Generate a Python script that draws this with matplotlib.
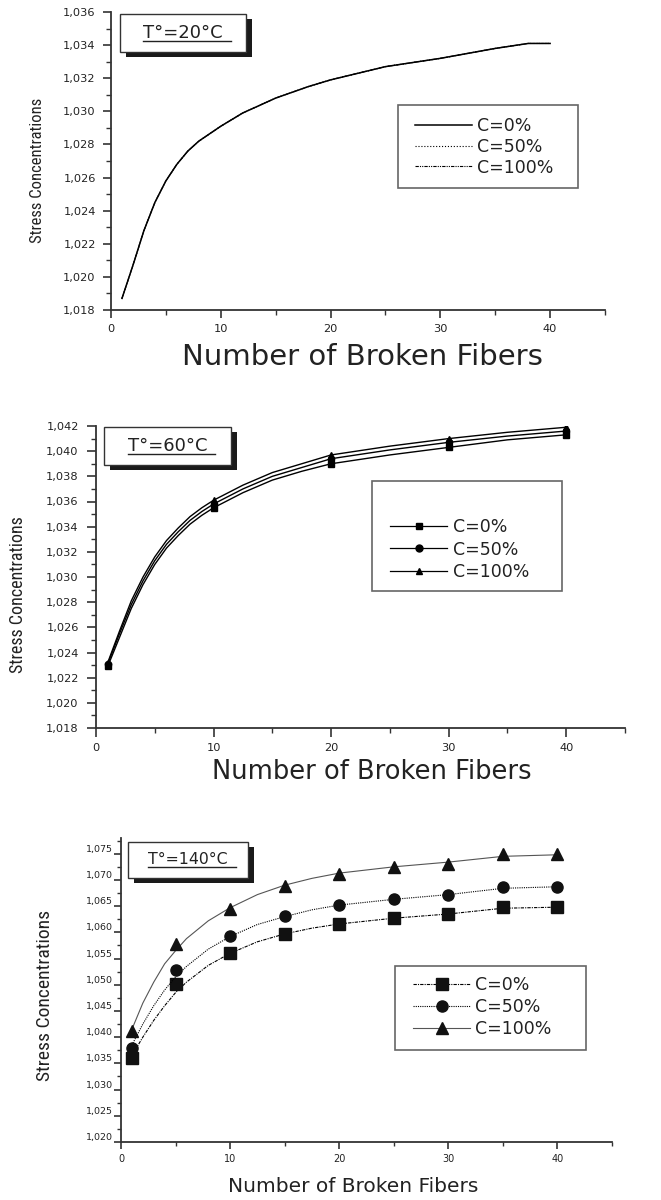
import numpy as np
import matplotlib
matplotlib.use("Agg")
from matplotlib import pyplot as plt
from matplotlib import font_manager
from matplotlib.lines import Line2D
from matplotlib.patches import Rectangle
from matplotlib.ticker import MultipleLocator, FuncFormatter

plt.rcParams['font.family'] = ['DejaVu Sans']

# ---- T = 20 C : the three curves lie on top of each other
x20 = [1, 2, 3, 4, 5, 6, 7, 8, 10, 12, 15, 18, 20, 25, 30, 35, 38, 40]
c0_20 = [1.0187, 1.0207, 1.0228, 1.0245, 1.0258, 1.0268, 1.0276, 1.0282, 1.0291,
         1.0299, 1.0308, 1.0315, 1.0319, 1.0327, 1.0332, 1.0338, 1.0341, 1.0341]
c50_20 = list(c0_20)
c100_20 = list(c0_20)

# ---- T = 60 C : measured points and the smooth curve through them
x60_pts = [1, 10, 20, 30, 40]
c0_60_pts = [1.0229, 1.0355, 1.0390, 1.0403, 1.0413]
c50_60_pts = [1.0231, 1.0358, 1.0394, 1.0407, 1.0416]
c100_60_pts = [1.0232, 1.0361, 1.0397, 1.0410, 1.0419]
x60 = [1, 2, 3, 4, 5, 6, 7, 8, 9, 10, 12.5, 15, 17.5, 20, 25, 30, 35, 40]
c0_60 = [1.0229, 1.0252, 1.0275, 1.0294, 1.0310, 1.0323, 1.0333, 1.0342, 1.0349, 1.0355,
         1.0367, 1.0377, 1.0384, 1.0390, 1.0397, 1.0403, 1.0409, 1.0413]
c50_60 = [1.0231, 1.0255, 1.0278, 1.0297, 1.0313, 1.0326, 1.0336, 1.0345, 1.0352, 1.0358,
          1.0370, 1.0380, 1.0387, 1.0394, 1.0401, 1.0407, 1.0412, 1.0416]
c100_60 = [1.0232, 1.0257, 1.0281, 1.0300, 1.0316, 1.0329, 1.0339, 1.0348, 1.0355, 1.0361,
           1.0373, 1.0383, 1.0390, 1.0397, 1.0404, 1.0410, 1.0415, 1.0419]

# ---- T = 140 C : measured points and fitted curves
x140_pts = [1, 5, 10, 15, 20, 25, 30, 35, 40]
c0_140_pts = [1.0361, 1.0502, 1.0560, 1.0597, 1.0616, 1.0627, 1.0635, 1.0648, 1.0648]
c50_140_pts = [1.0380, 1.0528, 1.0593, 1.0631, 1.0652, 1.0663, 1.0671, 1.0686, 1.0686]
c100_140_pts = [1.0412, 1.0578, 1.0645, 1.0688, 1.0712, 1.0724, 1.0731, 1.0750, 1.0750]
x140 = [1, 2, 3, 4, 5, 6, 8, 10, 12.5, 15, 17.5, 20, 25, 30, 35, 40]
c0_140 = [1.0365, 1.0400, 1.0432, 1.0460, 1.0485, 1.0505, 1.0537, 1.0560, 1.0582, 1.0597,
          1.0608, 1.0616, 1.0627, 1.0635, 1.0646, 1.0648]
c50_140 = [1.0385, 1.0425, 1.0460, 1.0490, 1.0515, 1.0535, 1.0568, 1.0592, 1.0615, 1.0630,
           1.0643, 1.0652, 1.0663, 1.0672, 1.0684, 1.0687]
c100_140 = [1.0415, 1.0465, 1.0505, 1.0540, 1.0565, 1.0588, 1.0622, 1.0647, 1.0672, 1.0690,
            1.0703, 1.0713, 1.0725, 1.0734, 1.0745, 1.0748]

labels = ['C=0%', 'C=50%', 'C=100%']
TXT = '#222222'

# narrow face for the y titles if one is installed
have = {f.name for f in font_manager.fontManager.ttflist}
narrow = None
for nm in ['Liberation Sans Narrow', 'DejaVu Sans Condensed', 'Roboto Condensed',
           'Open Sans Condensed']:
    if nm in have:
        narrow = nm
        break
if narrow:
    yfont = dict(family=[narrow, 'DejaVu Sans'])
    ysizes = [12, 13, 14]
else:
    yfont = dict(family=['DejaVu Sans'])
    ysizes = [9.5, 10.3, 11]

W, H = 661, 1200
fig = plt.figure(figsize=(W / 100, H / 100), dpi=100)


def px_axes(l, t, r, b):
    return fig.add_axes([l / W, 1 - b / H, (r - l) / W, (b - t) / H])


def comma(v, pos):
    return f"{v:.3f}".replace('.', ',')


def style(ax, ymaj, ymin, tsize, ypad, tlen):
    for s in ['top', 'right']:
        ax.spines[s].set_visible(False)
    for s in ['left', 'bottom']:
        ax.spines[s].set_linewidth(1.3)
        ax.spines[s].set_color('#333333')
    ax.xaxis.set_major_locator(MultipleLocator(10))
    ax.xaxis.set_minor_locator(MultipleLocator(5))
    ax.yaxis.set_major_locator(MultipleLocator(ymaj))
    ax.yaxis.set_minor_locator(MultipleLocator(ymin))
    ax.yaxis.set_major_formatter(FuncFormatter(comma))
    ax.tick_params(which='major', direction='out', length=tlen, width=1.2,
                   labelsize=tsize, colors='#333333', labelcolor=TXT)
    ax.tick_params(which='minor', direction='out', length=tlen * 0.6, width=1.0,
                   colors='#333333')
    ax.tick_params(axis='y', pad=ypad)
    ax.tick_params(axis='x', pad=4)


def temp_box(l, t, r, b, txt, size):
    fig.add_artist(Rectangle(((l + 6) / W, 1 - (b + 5) / H), (r - l) / W, (b - t) / H,
                             transform=fig.transFigure, facecolor='#1a1a1a',
                             edgecolor='none', zorder=5))
    fig.add_artist(Rectangle((l / W, 1 - b / H), (r - l) / W, (b - t) / H,
                             transform=fig.transFigure, facecolor='white',
                             edgecolor='#333333', linewidth=1.0, zorder=6))
    cx, cy = (l + r) / 2, (t + b) / 2
    tx = fig.text(cx / W, 1 - cy / H, txt, ha='center', va='center',
                  fontsize=size, color=TXT, zorder=7)
    fig.canvas.draw()
    bb = tx.get_window_extent()
    fig.add_artist(Line2D([bb.x0 / W, (bb.x1 + 8) / W], [(bb.y0 + 1) / H, (bb.y0 + 1) / H],
                          transform=fig.transFigure, color=TXT, linewidth=1.0, zorder=7))


def legend_box(ax, handles, frame, anchor, size, hl, sp):
    l, t, r, b = frame
    ax.add_patch(Rectangle((l / W, 1 - b / H), (r - l) / W, (b - t) / H,
                           transform=fig.transFigure, facecolor='white', clip_on=False,
                           edgecolor='#666666', linewidth=1.2, zorder=4))
    leg = ax.legend(handles=handles, loc='upper left',
                    bbox_to_anchor=(anchor[0] / W, 1 - anchor[1] / H),
                    bbox_transform=fig.transFigure, fontsize=size, frameon=False,
                    handlelength=hl, borderpad=0, labelspacing=sp, handletextpad=0.3,
                    borderaxespad=0)
    leg.set_zorder(10)
    for t_ in leg.get_texts():
        t_.set_color(TXT)
    return leg


# ---------------- top panel
ax1 = px_axes(111, 12, 605, 310)
ax1.plot(x20, c0_20, color='black', lw=1.1, ls='-', label=labels[0])
ax1.plot(x20, c50_20, color='black', lw=0.8, ls=':', label=labels[1])
ax1.plot(x20, c100_20, color='black', lw=0.8, ls=(0, (3, 1, 1, 1, 1, 1)), label=labels[2])
ax1.set_xlim(0, 45)
ax1.set_ylim(1.018, 1.036)
style(ax1, 0.002, 0.001, 8.2, 5, 6)
legend_box(ax1, ax1.get_lines(), (398, 105, 578, 188), (415, 117), 12.5, 3.3, 0.16)
temp_box(120, 14, 246, 52, 'T°=20°C', 13)
fig.text(38 / W, 1 - 170 / H, 'Stress Concentrations', rotation=90, ha='center',
         va='center', fontsize=ysizes[0], color=TXT, **yfont)
fig.text(362 / W, 1 - 357 / H, 'Number of Broken Fibers', ha='center', va='center',
         fontsize=21, color=TXT)

# ---------------- middle panel
ax2 = px_axes(96, 426, 625, 728)
mk = ['s', 'o', '^']
for xs, ys, xp, yp, m in [(x60, c0_60, x60_pts, c0_60_pts, 's'),
                          (x60, c50_60, x60_pts, c50_60_pts, 'o'),
                          (x60, c100_60, x60_pts, c100_60_pts, '^')]:
    ax2.plot(xs, ys, color='black', lw=1.0)
    ax2.plot(xp, yp, ls='none', marker=m, color='black', ms=4.5)
ax2.set_xlim(0, 45)
ax2.set_ylim(1.018, 1.042)
style(ax2, 0.002, 0.001, 8.2, 6, 6.5)
h2 = [Line2D([], [], color='black', lw=0.9, marker=m, ms=5, label=lab)
      for m, lab in zip(mk, labels)]
legend_box(ax2, h2, (372, 481, 562, 591), (390, 518), 12.5, 3.3, 0.26)
temp_box(104, 427, 231, 465, 'T°=60°C', 13)
fig.text(18 / W, 1 - 595 / H, 'Stress Concentrations', rotation=90, ha='center',
         va='center', fontsize=ysizes[1], color=TXT, **yfont)
fig.text(372 / W, 1 - 772 / H, 'Number of Broken Fibers', ha='center', va='center',
         fontsize=18.5, color=TXT)

# ---------------- bottom panel
ax3 = px_axes(121, 838, 612, 1142)
st = [dict(color='black', lw=0.8, ls=(0, (3, 1, 1, 1))),
      dict(color='black', lw=0.8, ls=(0, (1, 1))),
      dict(color='#555555', lw=0.8, ls='-')]
for ys, xp, yp, m, s in [(c0_140, x140_pts, c0_140_pts, 's', st[0]),
                         (c50_140, x140_pts, c50_140_pts, 'o', st[1]),
                         (c100_140, x140_pts, c100_140_pts, '^', st[2])]:
    ax3.plot(x140, ys, **s)
    ax3.plot(xp, yp, ls='none', marker=m, color='#111111', ms=8)
ax3.set_xlim(0, 45)
ax3.set_ylim(1.020, 1.078)
style(ax3, 0.005, 0.0025, 7, 0.5, 5)
ax3.tick_params(axis='y', labelsize=6.8)
for lab in ax3.get_yticklabels():
    lab.set_va('bottom')
h3 = [Line2D([], [], marker=m, ms=8, mfc='#111111', mec='#111111', label=lab, **s)
      for m, lab, s in zip(mk, labels, st)]
legend_box(ax3, h3, (395, 966, 586, 1050), (413, 976), 12.5, 3.3, 0.24)
temp_box(128, 842, 248, 878, 'T°=140°C', 11.3)
fig.text(45 / W, 1 - 995 / H, 'Stress Concentrations', rotation=90, ha='center',
         va='center', fontsize=ysizes[2], color=TXT, **yfont)
fig.text(353 / W, 1 - 1187 / H, 'Number of Broken Fibers', ha='center', va='center',
         fontsize=14.5, color=TXT)

fig.savefig('out.png', dpi=100)
